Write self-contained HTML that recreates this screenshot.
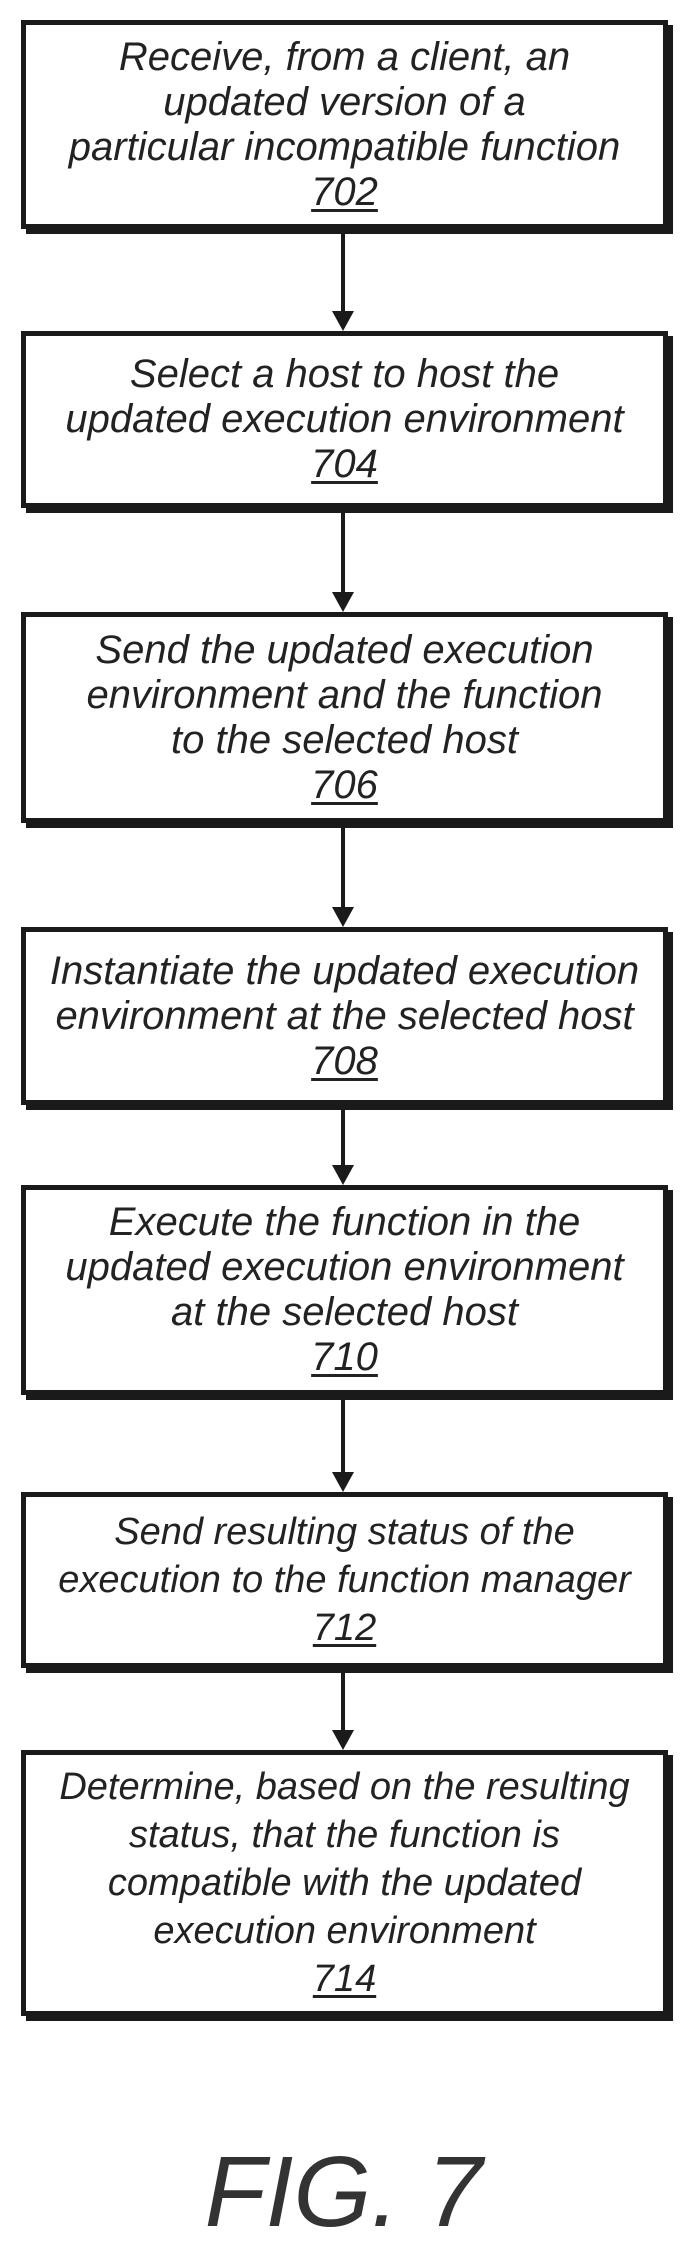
<!DOCTYPE html>
<html><head><meta charset="utf-8"><style>
html,body{margin:0;padding:0;background:#fff;}
body{width:687px;height:2255px;position:relative;overflow:hidden;font-family:"Liberation Sans Narrow","Liberation Sans",sans-serif;}
.b{position:absolute;left:21px;width:637px;border:5px solid #1a1a1a;box-shadow:5px 5px 0 #1a1a1a;background:#fff;display:flex;flex-direction:column;justify-content:center;align-items:center;text-align:center;font-style:italic;color:#222;font-size:40px;line-height:45px;}
.b u{text-decoration-thickness:3px;text-underline-offset:4px;}
.w{font-family:"Liberation Sans",sans-serif;font-size:38px;line-height:48px;}
.ln{position:absolute;left:341px;width:4px;background:#1a1a1a;}
.ah{position:absolute;left:332px;width:0;height:0;border-left:11px solid transparent;border-right:11px solid transparent;border-top:20px solid #1a1a1a;}
.fig{position:absolute;left:0;width:687px;text-align:center;top:2135px;font-family:"Liberation Sans",sans-serif;font-style:italic;font-size:100px;color:#333;line-height:115px;}
</style></head><body>
<div class="b" style="top:20px;height:199px">Receive, from a client, an<br>updated version of a<br>particular incompatible function<br><u>702</u></div>
<div class="ln" style="top:229px;height:84px"></div><div class="ah" style="top:311px"></div>
<div class="b" style="top:331px;height:167px">Select a host to host the<br>updated execution environment<br><u>704</u></div>
<div class="ln" style="top:508px;height:86px"></div><div class="ah" style="top:592px"></div>
<div class="b" style="top:612px;height:201px">Send the updated execution<br>environment and the function<br>to the selected host<br><u>706</u></div>
<div class="ln" style="top:823px;height:86px"></div><div class="ah" style="top:907px"></div>
<div class="b" style="top:927px;height:168px">Instantiate the updated execution<br>environment at the selected host<br><u>708</u></div>
<div class="ln" style="top:1105px;height:62px"></div><div class="ah" style="top:1165px"></div>
<div class="b" style="top:1185px;height:200px">Execute the function in the<br>updated execution environment<br>at the selected host<br><u>710</u></div>
<div class="ln" style="top:1395px;height:79px"></div><div class="ah" style="top:1472px"></div>
<div class="b w" style="top:1492px;height:166px">Send resulting status of the<br>execution to the function manager<br><u>712</u></div>
<div class="ln" style="top:1668px;height:64px"></div><div class="ah" style="top:1730px"></div>
<div class="b w" style="top:1750px;height:256px">Determine, based on the resulting<br>status, that the function is<br>compatible with the updated<br>execution environment<br><u>714</u></div>
<div class="fig">FIG. 7</div>
</body></html>
